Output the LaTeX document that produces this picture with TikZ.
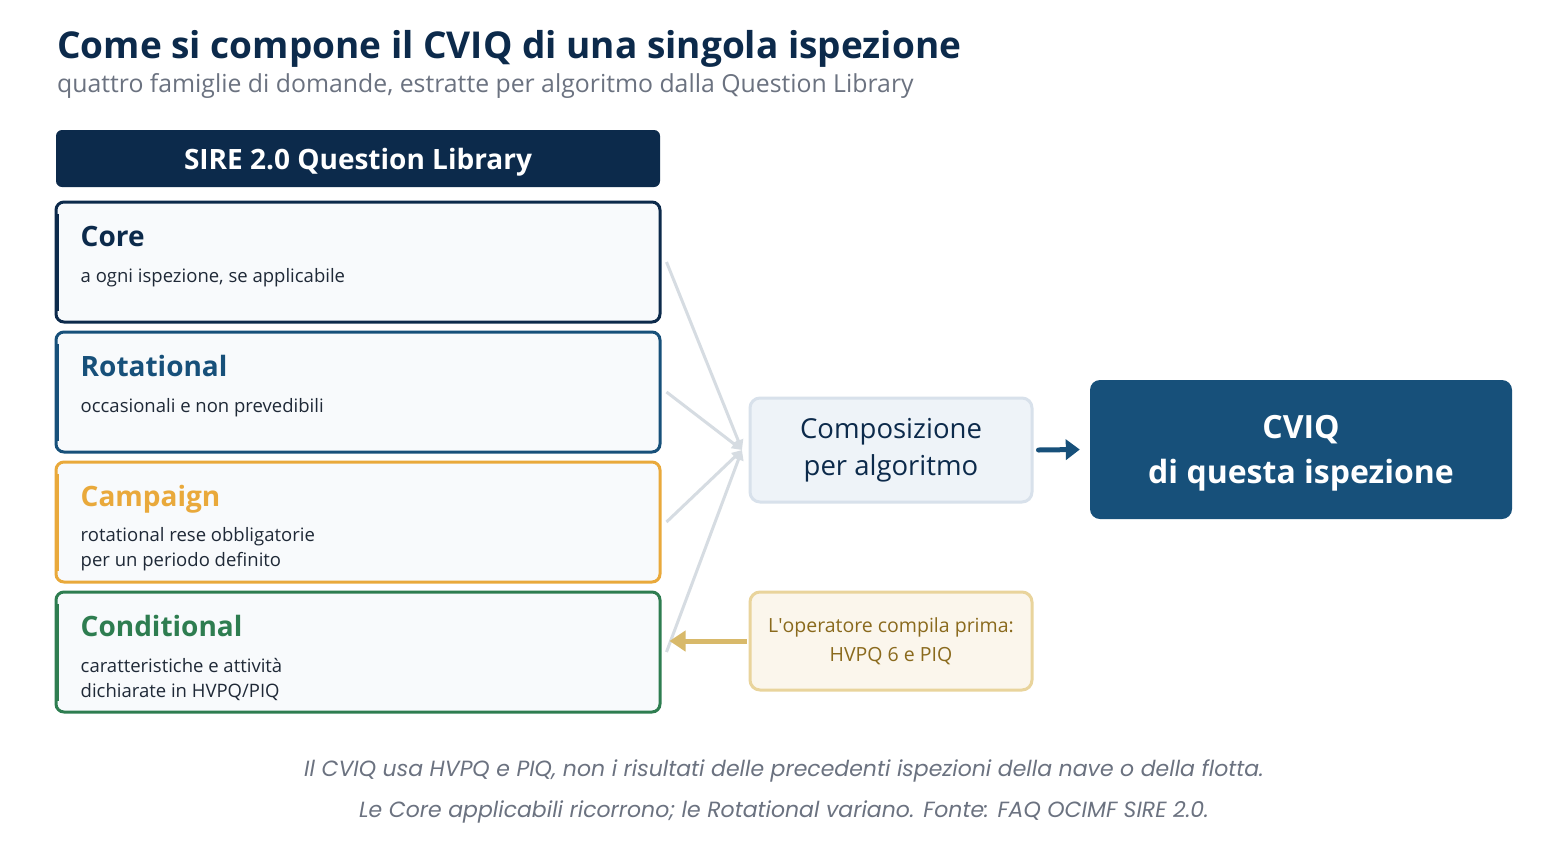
\documentclass[tikz,border=0pt]{standalone}
\usepackage{fontspec}
\setmainfont{Open Sans}
\newfontfamily\notefont{Poppins}
\usetikzlibrary{arrows.meta,positioning}
\definecolor{navy}{HTML}{0C2A4B}
\definecolor{steel}{HTML}{17507A}
\definecolor{amber}{HTML}{E9A93B}
\definecolor{leaf}{HTML}{2E7D50}
\definecolor{wire}{HTML}{D6DCE2}
\definecolor{paper}{HTML}{F8FAFC}
\definecolor{ink}{HTML}{1F2937}
\definecolor{mute}{HTML}{6B7280}
\definecolor{compfill}{HTML}{EEF3F8}
\definecolor{compline}{HTML}{D8E1EB}
\definecolor{operfill}{HTML}{FBF6EC}
\definecolor{operline}{HTML}{E9D49C}
\definecolor{opertext}{HTML}{8A6A1D}
\definecolor{operarrow}{HTML}{D8B96A}
\newcommand{\fs}[1]{\fontsize{#1}{#1}\selectfont}
\tikzset{
  family/.style={draw=#1, line width=3pt, fill=paper, rounded corners=8pt,
    minimum width=604pt, minimum height=120pt, inner sep=0pt},
  famtitle/.style={anchor=base west, text=#1, font=\fs{28}\bfseries, inner sep=0pt},
  famtext/.style={anchor=base west, text=ink, font=\fs{18.5}, inner sep=0pt},
  feed/.style={wire, line width=3pt, -{Triangle[length=10pt,width=10pt]}},
}
\begin{document}
\begin{tikzpicture}[x=1pt,y=-1pt]
  \useasboundingbox (0,0) rectangle (1568,860);
  \fill[white] (0,0) rectangle (1568,860);
  % titolo
  \node[anchor=base west, inner sep=0pt, text=navy, font=\fs{37}\bfseries] (title) at (57,58) {Come si compone il CVIQ di una singola ispezione};
  \node[anchor=base west, inner sep=0pt, text=mute, font=\fs{24.8}] (subtitle) at (57,92) {quattro famiglie di domande, estratte per algoritmo dalla Question Library};
  % libreria
  \node[fill=navy, rounded corners=6pt, minimum width=604pt, minimum height=57pt, text depth=0pt, text=white, font=\fs{28}\bfseries] (lib) at (358,158.5) {SIRE 2.0 Question Library};
  \node[family=navy] (core) at (358,262) {};
  \node[family=steel] (rot) at (358,392) {};
  \node[family=amber] (camp) at (358,522) {};
  \node[family=leaf] (cond) at (358,652) {};
  \foreach \b/\c in {core/navy,rot/steel,camp/amber,cond/leaf}
    \draw[\c, line width=3pt] ([xshift=3pt,yshift=-13pt]\b.north west) -- ([xshift=3pt,yshift=13pt]\b.south west);
  \node[famtitle=navy] (coreT) at ([xshift=26pt,yshift=-46pt]core.north west) {Core};
  \node[famtext] (coreD) at ([xshift=26pt,yshift=-82pt]core.north west) {a ogni ispezione, se applicabile};
  \node[famtitle=steel] (rotT) at ([xshift=26pt,yshift=-46pt]rot.north west) {Rotational};
  \node[famtext] (rotD) at ([xshift=26pt,yshift=-82pt]rot.north west) {occasionali e non prevedibili};
  \node[famtitle=amber] (campT) at ([xshift=26pt,yshift=-46pt]camp.north west) {Campaign};
  \node[famtext] (campD) at ([xshift=26pt,yshift=-81pt]camp.north west) {rotational rese obbligatorie};
  \node[famtext] (campE) at ([yshift=-25pt]campD.base west) {per un periodo definito};
  \node[famtitle=leaf] (condT) at ([xshift=26pt,yshift=-46pt]cond.north west) {Conditional};
  \node[famtext] (condD) at ([xshift=26pt,yshift=-82pt]cond.north west) {caratteristiche e attività};
  \node[famtext] (condE) at ([yshift=-25pt]condD.base west) {dichiarate in HVPQ/PIQ};
  % composizione
  \node[draw=compline, fill=compfill, line width=3pt, rounded corners=10pt, minimum width=282pt, minimum height=104pt, align=center, text=navy, font=\fs{27.5}] (comp) at (891,450) {Composizione\\[10pt]per algoritmo};
  \node[fill=steel, rounded corners=10pt, minimum width=422pt, minimum height=139pt, align=center, text=white, font=\fs{32}\bfseries] (cviq) at (1301,449.5) {\rule{0pt}{31pt}CVIQ\\[13pt]di questa ispezione};
  \node[draw=operline, fill=operfill, line width=3pt, rounded corners=10pt, minimum width=282pt, minimum height=98pt, align=center, text=opertext, font=\fs{19.5}] (oper) at (891,641) {L\textquotesingle operatore compila prima:\\[10pt]HVPQ 6 e PIQ};
  \coordinate (merge) at (742,450);
  \foreach \b in {core,rot,camp,cond}
    \draw[feed] ([xshift=5pt]\b.east) -- (merge);
  \draw[steel, line width=5pt, line cap=round, -{Triangle[length=14pt,width=20pt]}] ([xshift=5pt]comp.east) -- ([xshift=-10pt]cviq.west);
  \draw[operarrow, line width=5pt, -{Triangle[length=16pt,width=20pt]}] ([xshift=-2pt]oper.west) -- ([xshift=8pt]oper.west -| cond.east);
  % note
  \node[text=mute, font=\notefont\itshape\fs{22}] (note1) at (784,771) {Il CVIQ usa HVPQ e PIQ, non i risultati delle precedenti ispezioni della nave o della flotta.};
  \node[text=mute, font=\notefont\itshape\fs{22}] (note2) at (784,812) {Le Core applicabili ricorrono; le Rotational variano. Fonte: FAQ OCIMF SIRE 2.0.};
\end{tikzpicture}
\end{document}
